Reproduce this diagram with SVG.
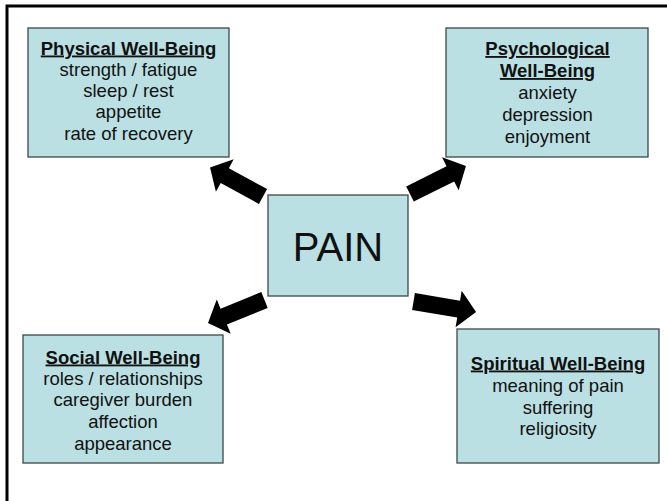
<svg xmlns="http://www.w3.org/2000/svg" xmlns:xlink="http://www.w3.org/1999/xlink" width="667" height="501" viewBox="0 0 667 501">
  <style>
    .box { fill: #bbe0e3; stroke: #3c4848; stroke-width: 1.3; }
    .txt { font-family: "Liberation Sans", Arial, sans-serif; font-size: 18.5px; fill: #111; text-anchor: middle; }
    .ttl { font-weight: bold; text-decoration: underline; }
    .big { font-family: "Liberation Sans", Arial, sans-serif; font-size: 40px; fill: #111; text-anchor: middle; }
    .arrow { fill: #000; }
  </style>
  <defs>
    <!-- block arrow pointing along +x, tail at origin, length 61 -->
    <path id="arr" d="M0,-8.5 H44 V-18.5 L61,0 L44,18.5 V8.5 H0 Z"/>
  </defs>

  <rect width="667" height="501" fill="#fff"/>
  <!-- slide frame (left and top edges) -->
  <path d="M7,501 V6 H667" fill="none" stroke="#000" stroke-width="3"/>

  <g id="connectors" class="arrow">
    <use xlink:href="#arr" href="#arr" transform="translate(263,196.5) rotate(208.7) scale(0.99,1)"/>
    <use xlink:href="#arr" href="#arr" transform="translate(410,194) rotate(-26.6) scale(1.026,1)"/>
    <use xlink:href="#arr" href="#arr" transform="translate(264.5,300) rotate(157.9)"/>
    <use xlink:href="#arr" href="#arr" transform="translate(413.5,301.5) rotate(9.5) scale(1.04,1)"/>
  </g>

  <g id="pain">
    <rect class="box" x="268" y="195" width="140" height="101"/>
    <text class="big" x="338" y="261">PAIN</text>
  </g>

  <g id="physical">
    <rect class="box" x="28" y="28" width="201" height="129"/>
    <text class="txt" x="128.5" y="54.5"><tspan class="ttl">Physical Well-Being</tspan></text>
    <text class="txt" x="128.5" y="76">strength / fatigue</text>
    <text class="txt" x="128.5" y="97">sleep / rest</text>
    <text class="txt" x="128.5" y="118">appetite</text>
    <text class="txt" x="128.5" y="139.5">rate of recovery</text>
  </g>

  <g id="psychological">
    <rect class="box" x="446" y="28" width="202" height="129"/>
    <text class="txt" x="547.5" y="55"><tspan class="ttl">Psychological</tspan></text>
    <text class="txt" x="547.5" y="77"><tspan class="ttl">Well-Being</tspan></text>
    <text class="txt" x="547.5" y="99">anxiety</text>
    <text class="txt" x="547.5" y="120.5">depression</text>
    <text class="txt" x="547.5" y="142.5">enjoyment</text>
  </g>

  <g id="social">
    <rect class="box" x="23" y="335" width="200" height="128"/>
    <text class="txt" x="123" y="363.5"><tspan class="ttl">Social Well-Being</tspan></text>
    <text class="txt" x="123" y="384.5">roles / relationships</text>
    <text class="txt" x="123" y="406">caregiver burden</text>
    <text class="txt" x="123" y="427.5">affection</text>
    <text class="txt" x="123" y="449.5">appearance</text>
  </g>

  <g id="spiritual">
    <rect class="box" x="457" y="329" width="202" height="134"/>
    <text class="txt" x="558" y="369.5"><tspan class="ttl">Spiritual Well-Being</tspan></text>
    <text class="txt" x="558" y="391.5">meaning of pain</text>
    <text class="txt" x="558" y="413.5">suffering</text>
    <text class="txt" x="558" y="435">religiosity</text>
  </g>
</svg>
